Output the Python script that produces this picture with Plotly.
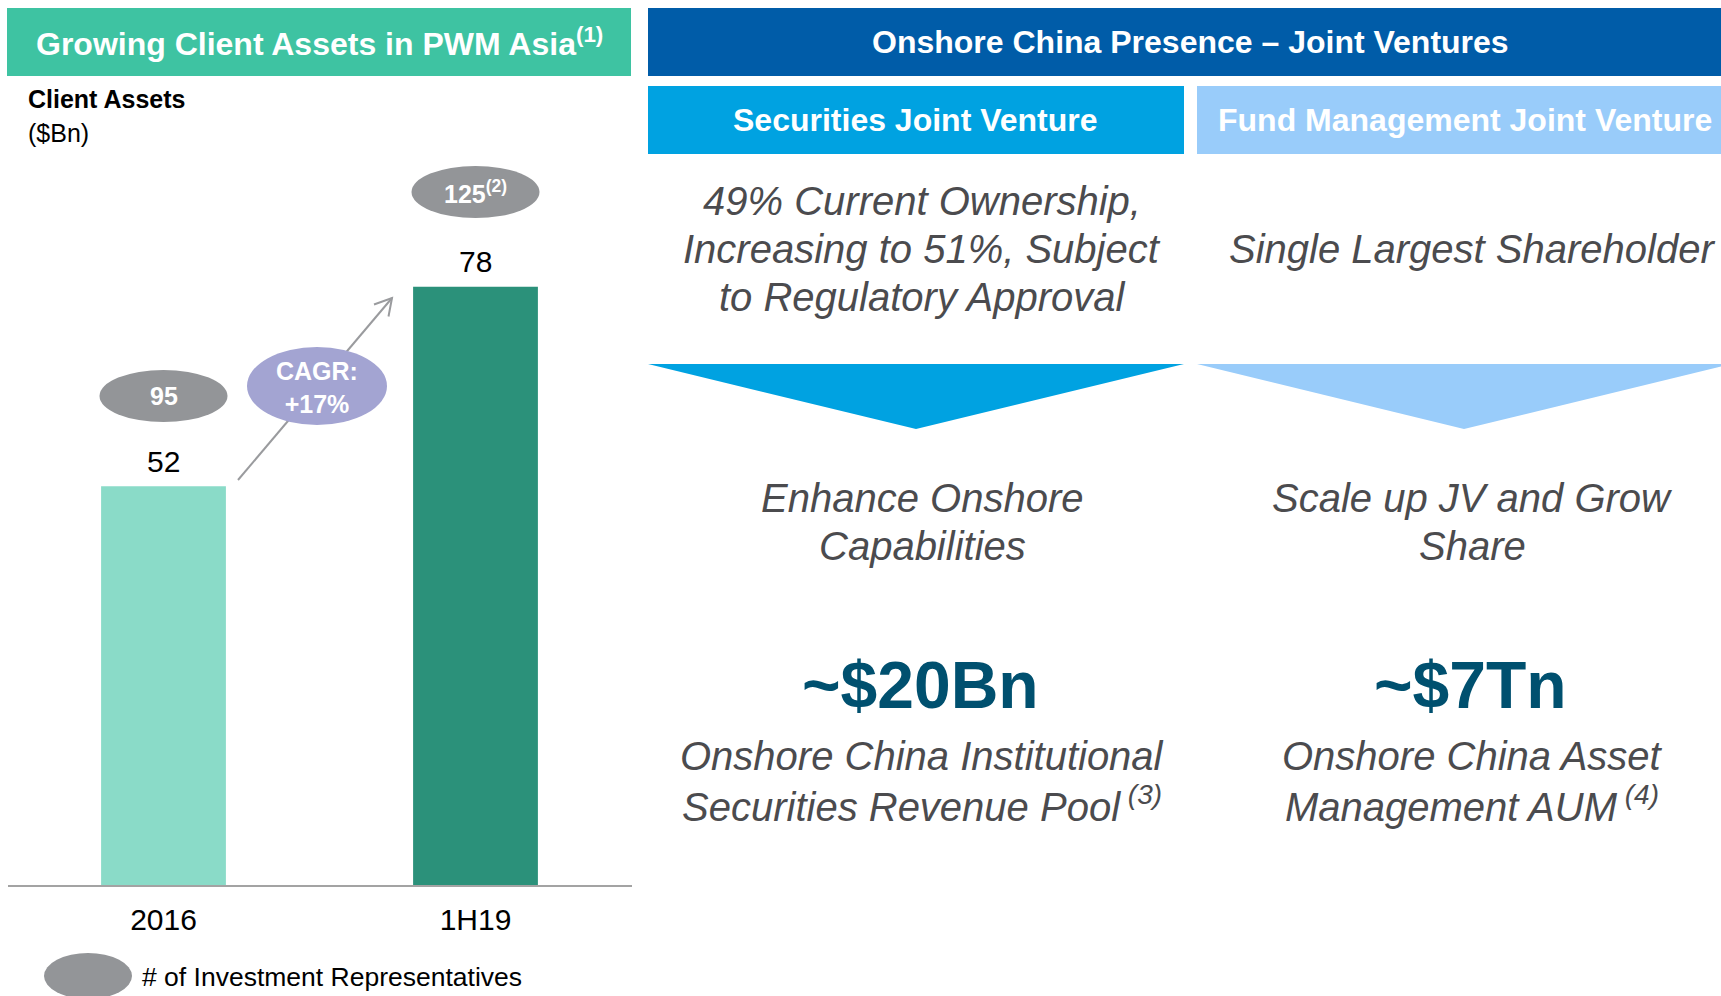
import plotly.graph_objects as go

# ---------------- data ----------------
categories = ["2016", "1H19"]
client_assets = [52, 78]                 # $Bn
investment_reps = [95, 125]              # number of investment representatives
reps_footnote = ["", "(2)"]
bar_colors = ["#8ADBC8", "#2B917A"]
cagr_label = ["CAGR:", "+17%"]

header_left = "Growing Client Assets in PWM Asia"
header_left_note = "(1)"
header_right = "Onshore China Presence – Joint Ventures"
jv_titles = ["Securities Joint Venture", "Fund Management Joint Venture"]
jv_ownership = [["49% Current Ownership,", "Increasing to 51%, Subject", "to Regulatory Approval"],
                ["Single Largest Shareholder"]]
jv_goal = [["Enhance Onshore", "Capabilities"], ["Scale up JV and Grow", "Share"]]
jv_big = ["~$20Bn", "~$7Tn"]
jv_desc = [["Onshore China Institutional", "Securities Revenue Pool"],
           ["Onshore China Asset", "Management AUM"]]
jv_desc_note = ["(3)", "(4)"]
legend_text = "# of Investment Representatives"

# ---------------- layout helpers ----------------
W, H = 1721, 996
FONT = "Liberation Sans, Arial, sans-serif"


def px(x):
    return x / W


def py(y):
    return 1 - y / H


GREEN = "#3EC3A2"
NAVY = "#005CA8"
SKY = "#00A2E1"
LIGHT = "#99CCFA"
GRAY_TXT = "#4B4B4E"
BIG_TXT = "#00506F"
ELL_GRAY = "#939598"
CAGR_COL = "#A3A4D2"
ARROW_COL = "#9A9B9E"

fig = go.Figure()
fig.add_trace(go.Bar(
    x=categories, y=client_assets, marker=dict(color=bar_colors, line=dict(width=0)),
    width=0.4, hoverinfo="skip",
))

plot_left, plot_right, base_y, top_y = 7.5, 631.5, 885, 160
px_per_unit = 7.67

shapes = []
annotations = []


def rect(x0, y0, x1, y1, color):
    shapes.append(dict(type="rect", xref="paper", yref="paper", x0=px(x0), x1=px(x1),
                       y0=py(y1), y1=py(y0), fillcolor=color, line=dict(width=0), layer="above"))


def tri(xl, xr, xa, yt, ya, color):
    path = f"M {px(xl)},{py(yt)} L {px(xr)},{py(yt)} L {px(xa)},{py(ya)} Z"
    shapes.append(dict(type="path", xref="paper", yref="paper", path=path,
                       fillcolor=color, line=dict(width=0), layer="above"))


def text(x, y, s, size, color, xanchor="center", bold=False, italic=False):
    if bold:
        s = f"<b>{s}</b>"
    if italic:
        s = f"<i>{s}</i>"
    annotations.append(dict(xref="paper", yref="paper", x=px(x), y=py(y), text=s,
                            showarrow=False, xanchor=xanchor, yanchor="middle",
                            font=dict(size=size, color=color, family=FONT)))


# header boxes
rect(7, 8, 631, 76, GREEN)
rect(648, 8, 1725, 76, NAVY)
rect(648, 86, 1184, 154, SKY)
rect(1197, 86, 1725, 154, LIGHT)
tri(648, 1184, 916, 364, 429, SKY)
tri(1197, 1731, 1464, 364, 429, LIGHT)

text(319, 42, f"{header_left}<sup>{header_left_note}</sup>", 32, "white", bold=True)
text(1190, 42, header_right, 32, "white", bold=True)
text(916, 120, jv_titles[0], 32, "white", bold=True)
text(1465, 120, jv_titles[1], 32, "white", bold=True)

# right side texts
col_x = [922, 1472]
for i in range(2):
    lines = jv_ownership[i]
    ys = [201, 249, 297] if len(lines) == 3 else [249]
    for s, y in zip(lines, ys):
        text(col_x[i], y, s, 40, GRAY_TXT, italic=True)
    for s, y in zip(jv_goal[i], [498, 546]):
        text(col_x[i], y, s, 40, GRAY_TXT, italic=True)
    text(col_x[i] - 2, 685, jv_big[i], 66, BIG_TXT, bold=True)
    d = jv_desc[i]
    text(col_x[i], 756, d[0], 40, GRAY_TXT, italic=True)
    text(col_x[i], 804, f"{d[1]}<sup> {jv_desc_note[i]}</sup>", 40, GRAY_TXT, italic=True)

# left panel texts
text(26, 99, "Client Assets", 25, "#000000", xanchor="left", bold=True)
text(26, 133, "($Bn)", 25, "#000000", xanchor="left")

# bar value labels, positioned through the data axes
for i, v in enumerate(client_assets):
    annotations.append(dict(xref="x", yref="y", x=i, y=v, text=str(v), showarrow=False,
                            xanchor="center", yanchor="middle", yshift=25,
                            font=dict(size=30, color="#000000", family=FONT)))

# CAGR arrow: line + open head, drawn behind the CAGR ellipse
shapes.append(dict(type="line", xref="paper", yref="paper", x0=px(238), y0=py(480),
                   x1=px(392), y1=py(298), line=dict(color=ARROW_COL, width=2), layer="above"))
head = f"M {px(374)},{py(304.5)} L {px(392)},{py(298)} L {px(388.5)},{py(316.5)}"
shapes.append(dict(type="path", xref="paper", yref="paper", path=head,
                   line=dict(color=ARROW_COL, width=2), layer="above"))
shapes.append(dict(type="circle", xref="paper", yref="paper", x0=px(247), x1=px(387),
                   y0=py(425), y1=py(347), fillcolor=CAGR_COL, line=dict(width=0), layer="above"))
text(317, 388, "<br>".join(cagr_label), 25, "white", bold=True)

# investment reps ellipses
rep_y = [396, 192]
half_w = 64 / ((plot_right - plot_left) / 2)
for i, (n, note) in enumerate(zip(investment_reps, reps_footnote)):
    shapes.append(dict(type="circle", xref="x", yref="paper", x0=i - half_w, x1=i + half_w,
                       y0=py(rep_y[i] + 26), y1=py(rep_y[i] - 26), fillcolor=ELL_GRAY,
                       line=dict(width=0), layer="above"))
    label = f"<b>{n}</b>" + (f"<sup><b>{note}</b></sup>" if note else "")
    annotations.append(dict(xref="x", yref="paper", x=i, y=py(rep_y[i]), text=label,
                            showarrow=False, xanchor="center", yanchor="middle",
                            font=dict(size=25, color="white", family=FONT)))

# legend
shapes.append(dict(type="circle", xref="paper", yref="paper", x0=px(44), x1=px(132),
                   y0=py(999), y1=py(953), fillcolor=ELL_GRAY, line=dict(width=0), layer="above"))
text(140, 977, legend_text, 26.5, "#000000", xanchor="left")

y_top_val = (base_y - top_y) / px_per_unit
fig.update_layout(
    width=W, height=H, autosize=False,
    margin=dict(l=0, r=0, t=0, b=0),
    paper_bgcolor="white", plot_bgcolor="white",
    showlegend=False,
    font=dict(family=FONT),
    xaxis=dict(domain=[px(plot_left), px(plot_right)], type="category", range=[-0.5, 1.5],
               showline=True, linecolor="#A3A3A3", linewidth=2, ticks="", showgrid=False,
               zeroline=False, tickfont=dict(size=30, color="#000000", family=FONT),
               ticklabelstandoff=7, fixedrange=True),
    yaxis=dict(domain=[py(base_y), py(top_y)], range=[0, y_top_val], visible=False,
               showgrid=False, zeroline=False, fixedrange=True),
    shapes=shapes,
    annotations=annotations,
)

fig.write_html("out.html", config={"displayModeBar": False},
               post_script="document.body.style.margin='0';document.body.style.overflow='hidden';")
